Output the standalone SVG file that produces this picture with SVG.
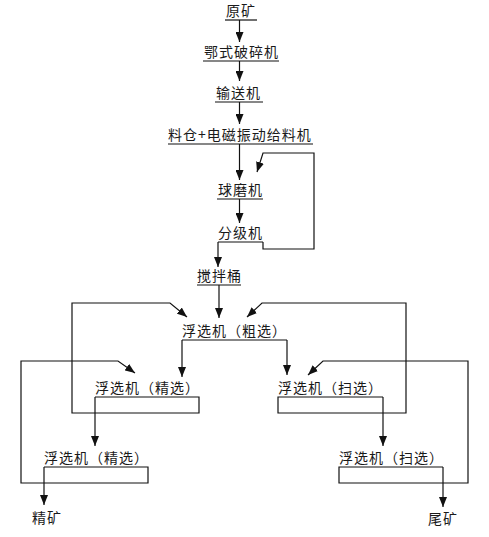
<svg xmlns="http://www.w3.org/2000/svg" width="489" height="537" viewBox="0 0 489 537">
<style>
text{font-family:"Noto Sans CJK SC","Noto Sans",sans-serif;font-size:14px;letter-spacing:1px;fill:#1a1a1a}
.u{stroke:#111;stroke-width:1.2;fill:none}
.c{stroke:#111;stroke-width:1.2;fill:none}
.a{marker-end:url(#ah)}
</style>
<defs>
<marker id="ah" markerUnits="userSpaceOnUse" markerWidth="10" markerHeight="8" refX="10" refY="4" orient="auto">
<path d="M0,0 L10,4 L0,8 z" fill="#111"/>
</marker>
</defs>
<rect width="489" height="537" fill="#fff"/>
<g id="n-yuankuang"><text x="226" y="16">原矿</text><line class="u" x1="225" y1="20" x2="257" y2="20"/></g>
<g id="n-eshi"><text x="204" y="57">鄂式破碎机</text><line class="u" x1="203" y1="61" x2="279" y2="61"/></g>
<g id="n-shusong"><text x="216" y="98">输送机</text><line class="u" x1="215" y1="102" x2="263" y2="102"/></g>
<g id="n-liaocang"><text x="168" y="140">料仓+电磁振动给料机</text><line class="u" x1="168" y1="144" x2="313" y2="144"/></g>
<g id="n-qiumo"><text x="218" y="195">球磨机</text><line class="u" x1="217" y1="199" x2="263" y2="199"/></g>
<g id="n-fenji"><text x="218" y="238">分级机</text><line class="u" x1="218" y1="242" x2="263" y2="242"/></g>
<g id="n-jiaoban"><text x="197" y="281">搅拌桶</text><line class="u" x1="197" y1="285" x2="241" y2="285"/></g>
<g id="n-cuxuan"><text x="182" y="336">浮选机（粗选）</text><line class="u" x1="182" y1="340" x2="287" y2="340"/></g>
<g id="n-jingxuan1"><text x="95" y="393">浮选机（精选）</text></g>
<g id="n-saoxuan1"><text x="278" y="393">浮选机（扫选）</text></g>
<g id="n-jingxuan2"><text x="44" y="463">浮选机（精选）</text></g>
<g id="n-saoxuan2"><text x="339" y="463">浮选机（扫选）</text></g>
<g id="n-jingkuang"><text x="32" y="523">精矿</text></g>
<g id="n-weikuang"><text x="428" y="524">尾矿</text></g>
<g id="connectors">
<line class="c a" x1="239.5" y1="20" x2="239.5" y2="42"/>
<line class="c a" x1="239.5" y1="61" x2="239.5" y2="81"/>
<line class="c a" x1="239.5" y1="102" x2="239.5" y2="124"/>
<line class="c a" x1="239.5" y1="144" x2="239.5" y2="180"/>
<line class="c a" x1="239.5" y1="199" x2="239.5" y2="223"/>
<polyline class="c a" points="263,242 263,249 314,249 314,153 263,153 257,172"/>
<line class="c a" x1="218" y1="242" x2="218" y2="267"/>
<line class="c a" x1="219" y1="285" x2="219" y2="318"/>
<line class="c a" x1="182" y1="340" x2="182" y2="377"/>
<line class="c a" x1="287" y1="340" x2="287" y2="375"/>
<polyline class="c a" points="95,397 199,397 199,413 72,413 72,303 170,303 187,317"/>
<line class="c a" x1="95" y1="397" x2="95" y2="446"/>
<polyline class="c a" points="383,397 278,397 278,413 406,413 406,303 262,303 247,317"/>
<line class="c a" x1="383" y1="397" x2="383" y2="446"/>
<polyline class="c a" points="44,467 148,467 148,483 21,483 21,361 118,361 135,373"/>
<line class="c a" x1="44" y1="467" x2="44" y2="505"/>
<polyline class="c a" points="443,467 339,467 339,483 468,483 468,361 323,361 308,375"/>
<line class="c a" x1="443" y1="467" x2="443" y2="507"/>
</g>
</svg>
